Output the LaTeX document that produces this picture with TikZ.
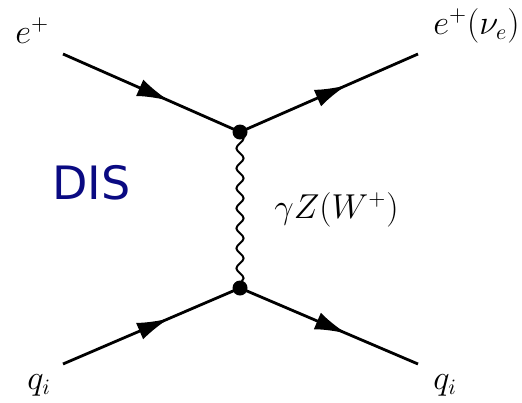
\documentclass[tikz,border=0pt]{standalone}
\usepackage{fontspec}
\newfontfamily\disfont{DejaVu Sans}
\usepackage{tikz}
\usetikzlibrary{arrows.meta,decorations.markings,decorations.pathmorphing}
\definecolor{disblue}{RGB}{10,10,130}
\tikzset{
  fermion/.style={line width=1.4pt,postaction={decorate},
    decoration={markings,mark=at position 0.6 with {\arrow{Latex[length=16pt,width=9pt]}}}},
  boson/.style={line width=1pt,decorate,decoration={snake,amplitude=1.8pt,segment length=10pt}},
  vertex/.style={circle,fill=black,minimum size=7.5pt,inner sep=0pt},
  lbl/.style={font=\fontsize{16}{19}\selectfont,inner sep=0pt},
  proc/.style={font=\disfont\fontsize{23}{27}\selectfont,text=disblue,inner sep=0pt},
}
\begin{document}
\begin{tikzpicture}[x=0.5pt,y=-0.5pt]
  \useasboundingbox (0,0) rectangle (522,402);

  % external legs
  \coordinate (ein)   at (63,54);
  \coordinate (eout)  at (418,54);
  \coordinate (qin)   at (63,364);
  \coordinate (qout)  at (418,364);

  % vertices
  \node[vertex] (vtop) at (240,132) {};
  \node[vertex] (vbot) at (240,288) {};

  % lines
  \draw[fermion] (ein)  -- (vtop.center);
  \draw[fermion] (vtop.center) -- (eout);
  \draw[fermion] (qin)  -- (vbot.center);
  \draw[fermion] (vbot.center) -- (qout);
  \draw[boson]   (vtop.center) -- (vbot.center);

  % labels
  \node[lbl,anchor=base west] (lein)  at (15,43)   {$e^+$};
  \node[lbl,anchor=base west] (leout) at (433,34)  {$e^+(\nu_e)$};
  \node[lbl,anchor=base west] (lprop) at (274,218) {$\gamma Z(W^+)$};
  \node[lbl,anchor=base west] (lqin)  at (27,389)  {$q_i$};
  \node[lbl,anchor=base west] (lqout) at (433,389) {$q_i$};
  \node[proc,anchor=base west] (dis) at (52,199) {DIS};

\end{tikzpicture}
\end{document}
